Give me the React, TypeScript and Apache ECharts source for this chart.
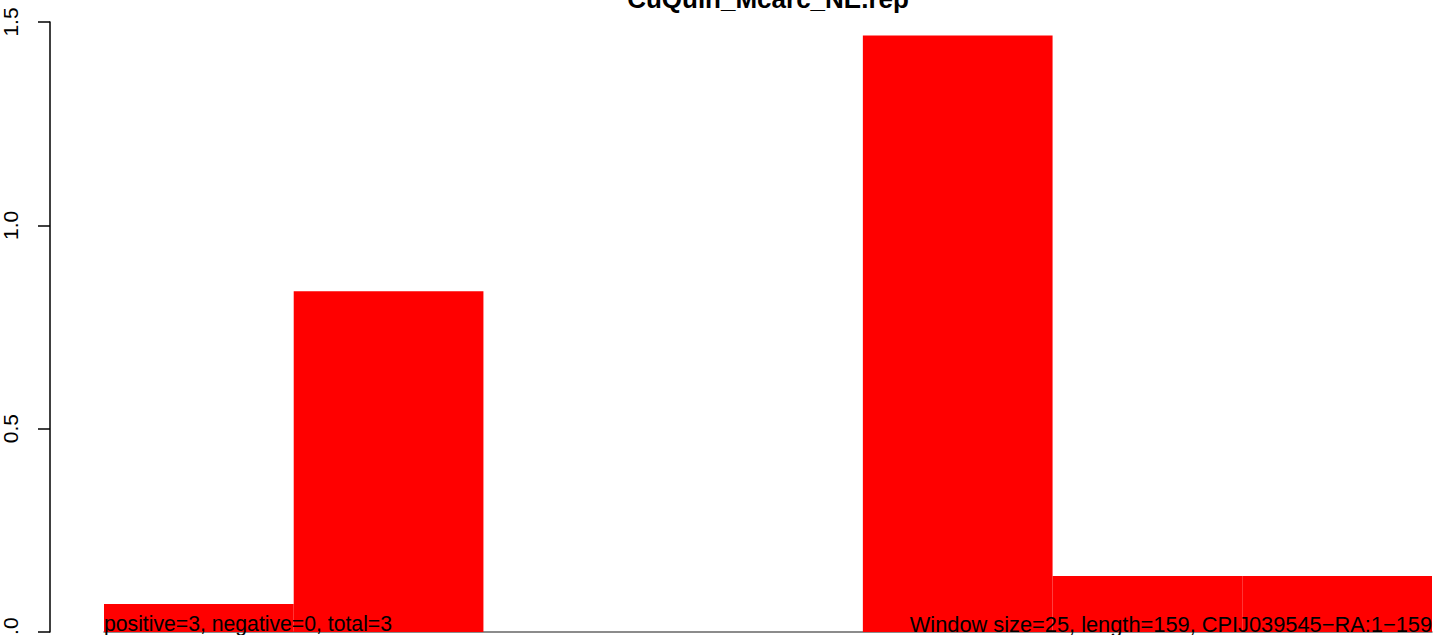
import React, { useEffect, useRef } from "react";
import * as echarts from "echarts";

const titleText = "CuQuin_Mcarc_NE.rep";
const windows = ["1", "2", "3", "4", "5", "6", "7"];
const scores = [0.069, 0.838, 0, 0, 1.467, 0.138, 0.138];
const yTicks = { min: 0, max: 1.5, interval: 0.5 };
const leftNote = "positive=3, negative=0, total=3";
const rightNote = "Window size=25, length=159, CPIJ039545\u2212RA:1\u2212159";

const FONT = "'Liberation Sans', Arial, Helvetica, sans-serif";

export default function App() {
  const ref = useRef<HTMLDivElement>(null);
  useEffect(() => {
    document.body.style.margin = "0";
    const chart = echarts.init(ref.current!, null, { renderer: "svg" });
    chart.setOption({
      animation: false,
      backgroundColor: "#ffffff",
      grid: {
        left: 104,
        right: 9,
        top: 22,
        bottom: 3,
        containLabel: false,
        outerBoundsMode: "none",
      },
      title: {
        text: titleText,
        left: 768,
        textAlign: "center",
        top: -14,
        padding: 0,
        textStyle: { fontFamily: FONT, fontWeight: "bold", fontSize: 26, color: "#000" },
      },
      xAxis: {
        type: "category",
        data: windows,
        boundaryGap: true,
        axisLine: { show: true, lineStyle: { color: "#666", width: 1.5 } },
        axisTick: { show: false },
        axisLabel: { show: false },
        splitLine: { show: false },
      },
      yAxis: {
        type: "value",
        min: yTicks.min,
        max: yTicks.max,
        interval: yTicks.interval,
        offset: 54,
        axisLine: { show: true, lineStyle: { color: "#000", width: 1.5 } },
        axisTick: { show: true, inside: false, length: 12, lineStyle: { color: "#000", width: 1.5 } },
        axisLabel: {
          show: true,
          rotate: 90,
          margin: 40,
          align: "center",
          verticalAlign: "middle",
          fontFamily: FONT,
          fontSize: 21,
          color: "#000",
          formatter: (v: number) => v.toFixed(1),
        },
        splitLine: { show: false },
      },
      series: [
        {
          type: "bar",
          data: scores,
          barCategoryGap: "0%",
          itemStyle: { color: "#ff0000", borderWidth: 0 },
          z: 3,
        },
      ],
      graphic: [
        {
          type: "text",
          left: 104,
          top: 613,
          style: { text: leftNote, font: `21.2px ${FONT}`, fill: "#000" },
          z: 10,
        },
        {
          type: "text",
          right: 9,
          top: 613,
          style: { text: rightNote, font: `21.8px ${FONT}`, fill: "#000" },
          z: 10,
        },
      ],
    });
    return () => chart.dispose();
  }, []);
  return <div ref={ref} style={{ width: 1441, height: 635 }} />;
}
